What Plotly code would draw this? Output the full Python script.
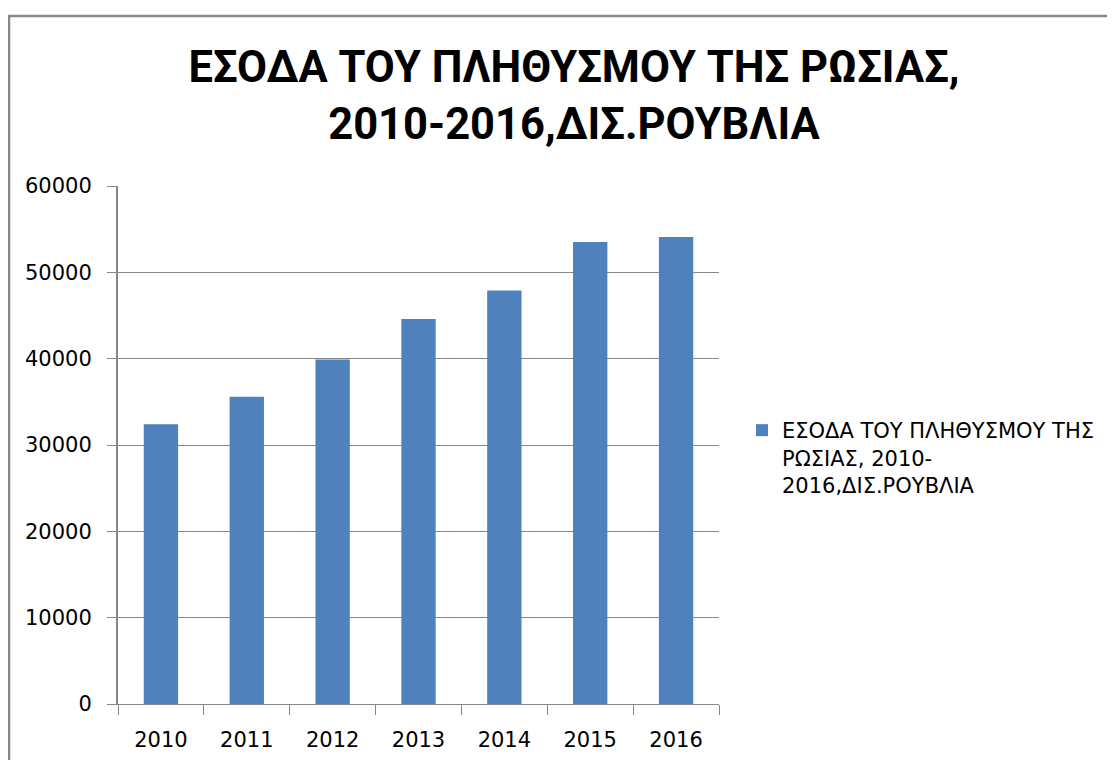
import plotly.graph_objects as go

years = ["2010", "2011", "2012", "2013", "2014", "2015", "2016"]
income = [32400, 35600, 39900, 44600, 47900, 53500, 54100]
series_name = "ΕΣΟΔΑ ΤΟΥ ΠΛΗΘΥΣΜΟΥ ΤΗΣ<br>ΡΩΣΙΑΣ, 2010-<br>2016,ΔΙΣ.ΡΟΥΒΛΙΑ"
title_text = "ΕΣΟΔΑ ΤΟΥ ΠΛΗΘΥΣΜΟΥ ΤΗΣ ΡΩΣΙΑΣ,<br>2010-2016,ΔΙΣ.ΡΟΥΒΛΙΑ"
y_ticks = [0, 10000, 20000, 30000, 40000, 50000, 60000]
y_labels = ["0", "10000", "20000", "30000", "40000", "50000", "60000"]

OFF = 8  # page body margin
W, H = 1115 - OFF, 760 - OFF
# plot area in page pixels
PL, PR, PT, PB = 118, 719, 186, 704
L, R, T, B = PL - OFF, PR - OFF, PT - OFF, PB - OFF

fig = go.Figure()
fig.add_trace(go.Bar(x=years, y=income, name=series_name,
                     marker=dict(color="#4F81BD", line=dict(width=0)),
                     showlegend=True))

grid = "#868686"
fig.update_layout(
    width=W, height=H,
    margin=dict(l=L, r=W - R, t=T, b=H - B, pad=0, autoexpand=False),
    paper_bgcolor="white", plot_bgcolor="white",
    bargap=0.6,
    font=dict(family="DejaVu Sans", size=21, color="black"),
    title=dict(text=title_text, x=(574 - OFF) / W, xanchor="center", xref="container",
               y=1 - 74 / H, yanchor="top", yref="container",
               font=dict(family="Roboto", size=43.5, color="black", weight="bold")),
    showlegend=True,
    legend=dict(x=(742 - PL) / (PR - PL), xanchor="left", y=(PB - 410) / (PB - PT), yanchor="top",
                font=dict(family="DejaVu Sans", size=21, color="black"),
                bgcolor="rgba(0,0,0,0)", itemwidth=30, valign="top"),
    xaxis=dict(type="category", showgrid=False, showline=True, linecolor=grid, linewidth=1,
               ticks="outside", ticklen=10, tickcolor=grid, tickwidth=1,
               tickson="boundaries", ticklabelstandoff=17,
               tickfont=dict(family="DejaVu Sans", size=21)),
    yaxis=dict(range=[0, 60000], tickvals=y_ticks, ticktext=y_labels,
               showgrid=True, gridcolor=grid, gridwidth=1,
               showline=True, linecolor=grid, linewidth=2, zeroline=False,
               ticks="outside", ticklen=9, tickcolor=grid, tickwidth=1,
               ticklabelstandoff=11,
               tickfont=dict(family="DejaVu Sans", size=21)),
)

# chart outer border (only top and left edges visible in frame)
fig.add_shape(type="rect", xref="paper", yref="paper",
              x0=(1 - L) / (R - L), x1=(1300 - L) / (R - L),
              y0=(B - 900) / (B - T), y1=(B - 8) / (B - T),
              line=dict(color="#868686", width=2.5), fillcolor="rgba(0,0,0,0)", layer="below")

fig.write_html("out.html")
